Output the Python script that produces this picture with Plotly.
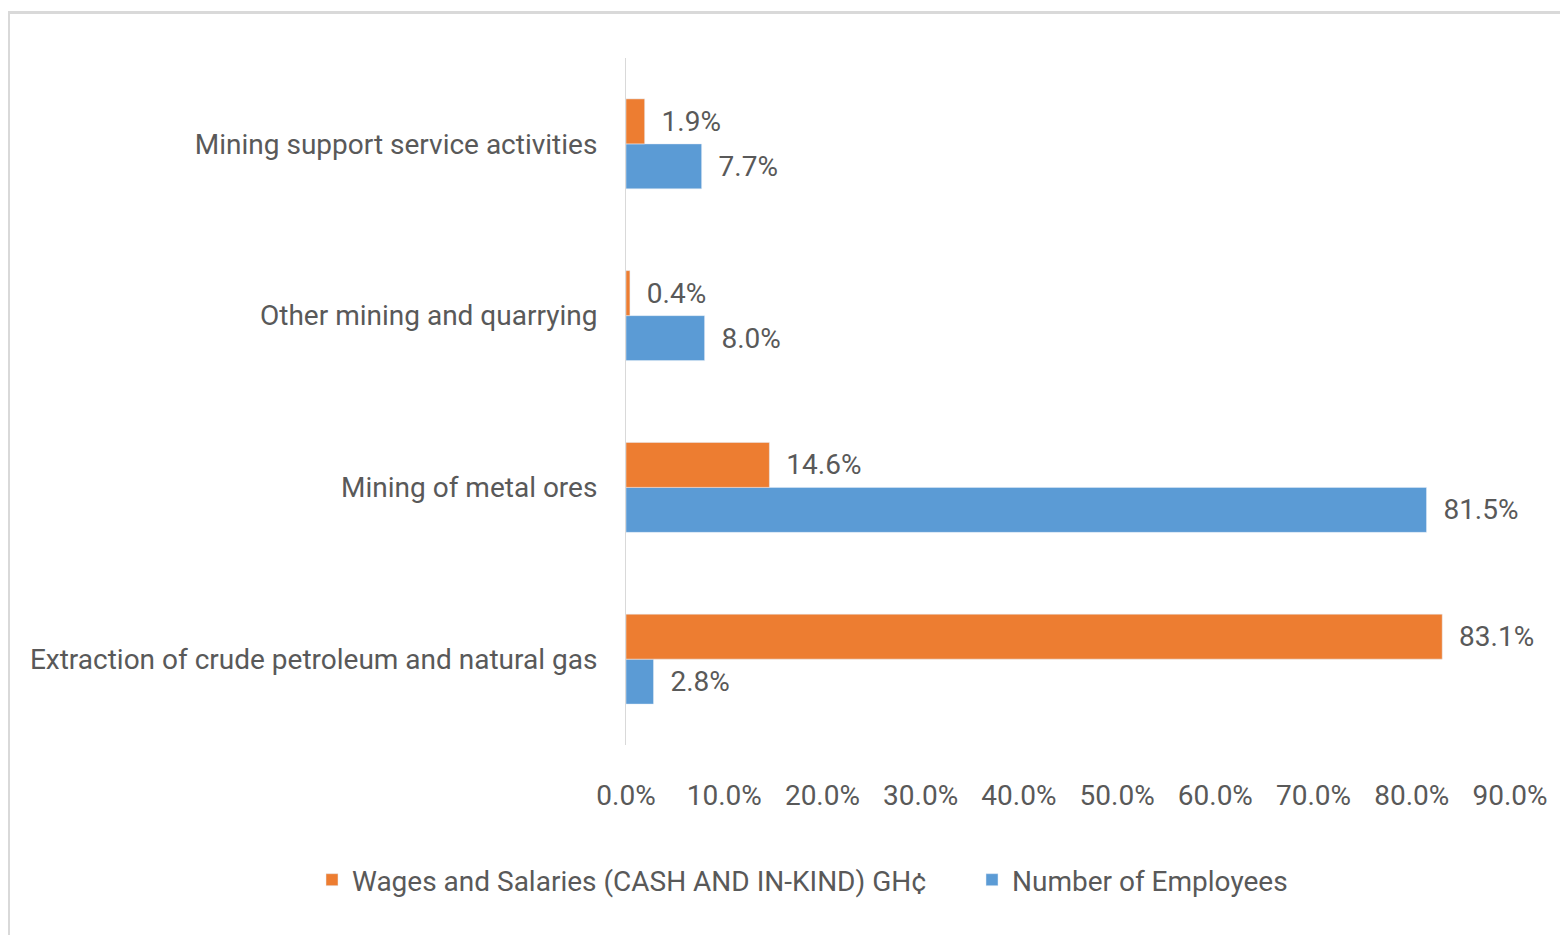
import plotly.graph_objects as go

categories = [
    "Extraction of crude petroleum and natural gas",
    "Mining of metal ores",
    "Other mining and quarrying",
    "Mining support service activities",
]
wages = [0.831, 0.146, 0.004, 0.019]
employees = [0.028, 0.815, 0.080, 0.077]
tick_vals = [0.0, 0.1, 0.2, 0.3, 0.4, 0.5, 0.6, 0.7, 0.8, 0.9]
tick_text = ["0.0%", "10.0%", "20.0%", "30.0%", "40.0%", "50.0%", "60.0%", "70.0%", "80.0%", "90.0%"]

FONT = "Roboto, sans-serif"
FS = 28
TXT = "#595959"
OFF = 8  # page body margin
W, H = 1568 - OFF, 935 - OFF
ML, MT = 626 - OFF, 58 - OFF
MR = W - (1510 - OFF)
MB = H - (745 - OFF)
PW, PH = W - ML - MR, H - MT - MB

def px_x(x):
    return (x - OFF - ML) / PW

def px_y(y):
    return (H - MB - (y - OFF)) / PH

fig = go.Figure()
fig.add_trace(go.Bar(
    y=categories, x=employees, orientation="h", name="Number of Employees",
    marker=dict(color="#5b9bd5"),
    texttemplate="\u00a0\u00a0%{x:.1%}", textposition="outside",
    textfont=dict(family=FONT, size=FS, color=TXT), cliponaxis=False,
))
fig.add_trace(go.Bar(
    y=categories, x=wages, orientation="h", name="Wages and Salaries (CASH AND IN-KIND) GH¢",
    marker=dict(color="#ed7d31"),
    texttemplate="\u00a0\u00a0%{x:.1%}", textposition="outside",
    textfont=dict(family=FONT, size=FS, color=TXT), cliponaxis=False,
))

fig.update_layout(
    width=W, height=H,
    margin=dict(l=ML, r=MR, t=MT, b=MB, autoexpand=False),
    paper_bgcolor="white", plot_bgcolor="white",
    barmode="group", bargap=0.476, bargroupgap=0,
    font=dict(family=FONT, size=FS, color=TXT),
    showlegend=True,
    legend=dict(
        orientation="h", traceorder="reversed",
        x=px_x(312), xanchor="left", y=px_y(880), yanchor="middle",
        font=dict(family=FONT, size=FS, color=TXT),
        itemwidth=30, entrywidth=615, entrywidthmode="pixels",
    ),
    xaxis=dict(
        range=[0, 0.9], tickvals=tick_vals, ticktext=tick_text,
        showgrid=False, zeroline=False, showline=False, automargin=False,
        ticks="outside", ticklen=25, tickcolor="rgba(0,0,0,0)",
        tickfont=dict(family=FONT, size=FS, color=TXT),
        fixedrange=True,
    ),
    yaxis=dict(
        showgrid=False, zeroline=False, showline=True, linecolor="#d9d9d9", linewidth=1,
        automargin=False,
        ticks="outside", ticklen=22, tickcolor="rgba(0,0,0,0)",
        tickfont=dict(family=FONT, size=FS, color=TXT),
        fixedrange=True,
    ),
    shapes=[dict(
        type="rect", xref="paper", yref="paper",
        x0=px_x(8.5), x1=px_x(1580), y0=px_y(950), y1=px_y(12.5),
        line=dict(color="#d9d9d9", width=3), fillcolor="rgba(0,0,0,0)", layer="below",
    )],
)

fig.write_html("out.html")
